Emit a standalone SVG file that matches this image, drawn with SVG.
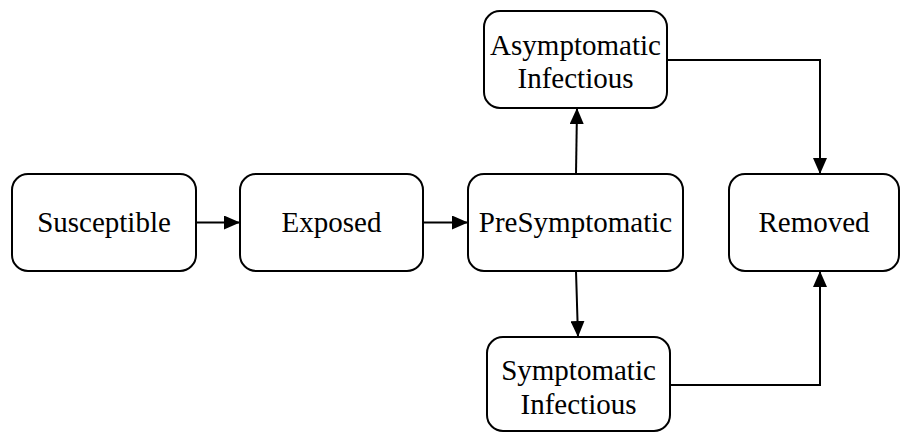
<svg xmlns="http://www.w3.org/2000/svg" width="902" height="432" viewBox="0 0 902 432">
<style>
.box{fill:#fff;stroke:#000;stroke-width:2}
.lbl{font-family:"Liberation Serif","Times New Roman",serif;font-size:29px;fill:#000;text-anchor:middle}
.edge{fill:none;stroke:#000;stroke-width:2}
</style>
<defs>
<marker id="arr" markerWidth="16" markerHeight="14" refX="16" refY="7" orient="auto" markerUnits="userSpaceOnUse">
<path d="M0,0 L16,7 L0,14 Z" fill="#000"/>
</marker>
</defs>
<rect width="902" height="432" fill="#fff"/>
<g id="connectors">
<line class="edge" x1="196" y1="222.5" x2="240" y2="222.5" marker-end="url(#arr)"/>
<line class="edge" x1="423" y1="222.5" x2="468" y2="222.5" marker-end="url(#arr)"/>
<line class="edge" x1="576" y1="174" x2="577" y2="108" marker-end="url(#arr)"/>
<line class="edge" x1="576" y1="271" x2="578" y2="337" marker-end="url(#arr)"/>
<polyline class="edge" points="667,60 820,60 820,174" marker-end="url(#arr)"/>
<polyline class="edge" points="670,385 820,385 820,271" marker-end="url(#arr)"/>
</g>
<g id="susceptible">
<rect class="box" x="12" y="174" width="184" height="97" rx="16"/>
<text class="lbl" x="104" y="232">Susceptible</text>
</g>
<g id="exposed">
<rect class="box" x="240" y="174" width="183" height="97" rx="16"/>
<text class="lbl" x="331.5" y="232">Exposed</text>
</g>
<g id="presymptomatic">
<rect class="box" x="468" y="174" width="215" height="97" rx="16"/>
<text class="lbl" x="575.5" y="232">PreSymptomatic</text>
</g>
<g id="removed">
<rect class="box" x="729" y="174" width="170" height="97" rx="16"/>
<text class="lbl" x="814" y="232">Removed</text>
</g>
<g id="asymptomatic">
<rect class="box" x="484" y="11" width="183" height="97" rx="16"/>
<text class="lbl" x="575.5" y="55">Asymptomatic</text>
<text class="lbl" x="575.5" y="88">Infectious</text>
</g>
<g id="symptomatic">
<rect class="box" x="487" y="337" width="183" height="94" rx="16"/>
<text class="lbl" x="578.5" y="380">Symptomatic</text>
<text class="lbl" x="578.5" y="414">Infectious</text>
</g>
</svg>
